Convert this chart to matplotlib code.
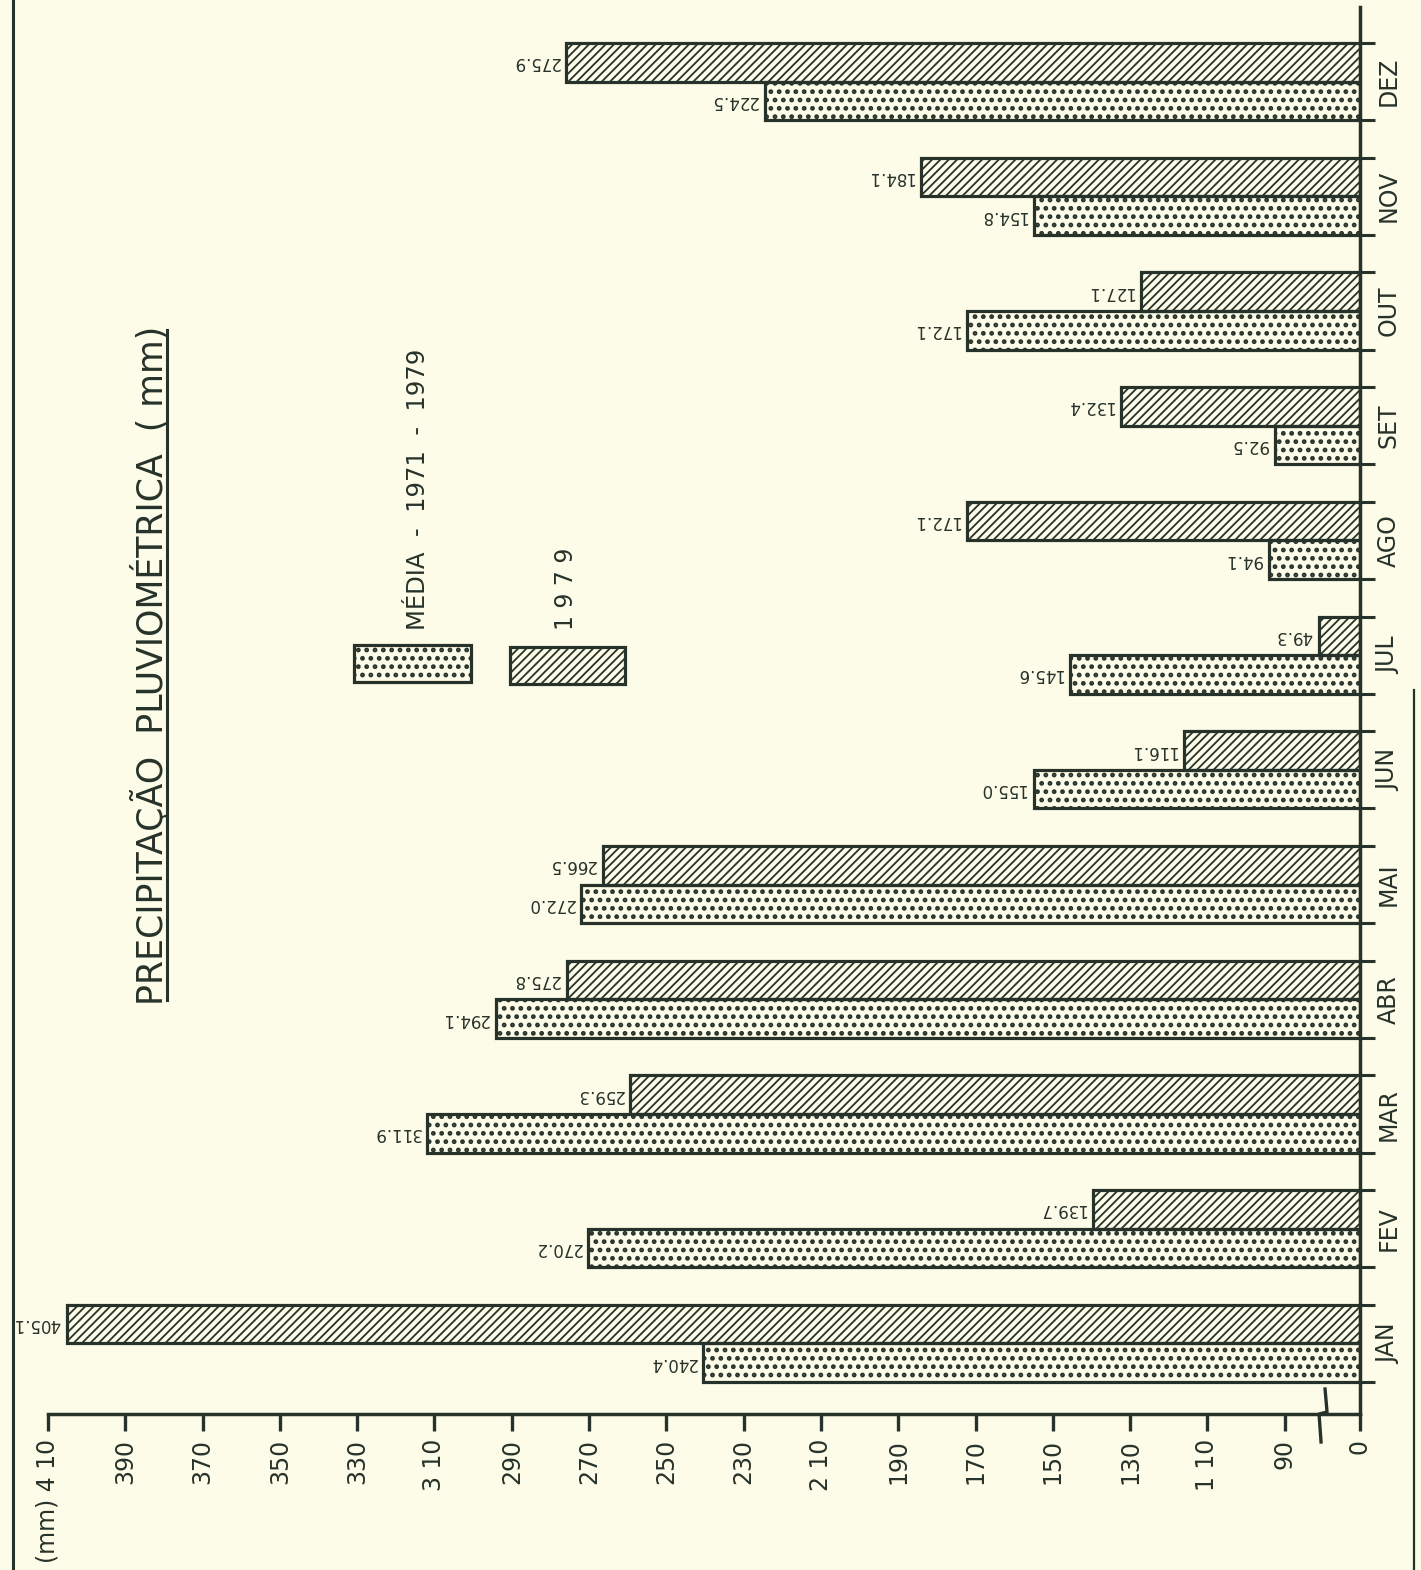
import numpy as np
import matplotlib
matplotlib.use("Agg")
import matplotlib.pyplot as plt
from matplotlib.patches import Rectangle
from matplotlib.lines import Line2D
from matplotlib import transforms

# ---------------- data ----------------
months = ["JAN", "FEV", "MAR", "ABR", "MAI", "JUN", "JUL", "AGO", "SET", "OUT", "NOV", "DEZ"]
media_1971_1979 = [240.4, 270.2, 311.9, 294.1, 272.0, 155.0, 145.6, 94.1, 92.5, 172.1, 154.8, 224.5]
ano_1979 = [405.1, 139.7, 259.3, 275.8, 266.5, 116.1, 49.3, 172.1, 132.4, 127.1, 184.1, 275.9]
tick_values = [0, 90, 110, 130, 150, 170, 190, 210, 230, 250, 270, 290, 310, 330, 350, 370, 390, 410]
tick_labels = ["0", "90", "1 10", "130", "150", "170", "190", "2 10", "230", "250", "270",
               "290", "3 10", "330", "350", "370", "390", "(mm) 4 10"]
title = "PRECIPITAÇÃO  PLUVIOMÉTRICA  ( mm)"
legend_labels = ["MÉDIA  -  1971  -  1979", "1 9 7 9"]

# ---------------- style ----------------
BG = "#FDFCE8"
INK = "#27322A"
plt.rcParams["font.family"] = ["DejaVu Sans"]
plt.rcParams["hatch.linewidth"] = 1.4
plt.rcParams["hatch.color"] = INK

W, H = 1421, 1570
fig = plt.figure(figsize=(W / 100, H / 100), dpi=100, facecolor=BG)

# axes placement in pixels
ax_left, ax_right, ax_top, ax_bottom = 48, 1360, 7, 1414
ax = fig.add_axes([ax_left / W, 1 - ax_bottom / H, (ax_right - ax_left) / W, (ax_bottom - ax_top) / H])
ax.set_facecolor("none")

# broken value axis: 0-90 compressed
BRK = 90.0
KU = 19.47  # scale units given to the 0..90 segment


def fwd(v):
    v = np.asarray(v, dtype=float)
    return np.where(v < BRK, v * KU / BRK, v - BRK + KU)


def inv(u):
    u = np.asarray(u, dtype=float)
    return np.where(u < KU, u * BRK / KU, u + BRK - KU)


ax.set_xscale("function", functions=(fwd, inv))

y = np.arange(len(months))
bh = 0.336
b1 = ax.barh(y - bh / 2, media_1971_1979, height=bh, facecolor="none", edgecolor=INK,
             linewidth=2.3, hatch="..")
b2 = ax.barh(y + bh / 2, ano_1979, height=bh, facecolor="none", edgecolor=INK,
             linewidth=2.3, hatch="////")
for r in b1:
    if hasattr(r, "set_hatch_linewidth"):
        r.set_hatch_linewidth(2.2)
for r in b2:
    if hasattr(r, "set_hatch_linewidth"):
        r.set_hatch_linewidth(1.3)

for bars, vals in ((b1, media_1971_1979), (b2, ano_1979)):
    for rect, v in zip(bars, vals):
        ax.annotate(f"{v:.1f}", xy=(v, rect.get_y() + rect.get_height() / 2),
                    xytext=(-5, 0), textcoords="offset points", rotation=180,
                    ha="right", va="center", fontsize=12, color=INK)

ax.set_xlim(410, 0)
ax.set_ylim(-0.615, 11.65)

# spines
for s in ("top", "left"):
    ax.spines[s].set_visible(False)
for s in ("bottom", "right"):
    ax.spines[s].set_color(INK)
    ax.spines[s].set_linewidth(2.5)

# value ticks
ax.set_xticks(tick_values)
ax.set_xticklabels(tick_labels, rotation=90, fontsize=17, color=INK)
ax.tick_params(axis="x", direction="out", length=12, width=2.4, color=INK, pad=6)
ax.xaxis.set_minor_locator(matplotlib.ticker.NullLocator())

# month axis on the right
ax.yaxis.tick_right()
edges = np.sort(np.concatenate([y - bh, y + bh]))
ax.set_yticks(edges)
ax.set_yticklabels([])
ax.tick_params(axis="y", which="major", direction="out", length=11, width=2.2, color=INK)
ax.set_yticks(y, minor=True)
ax.set_yticklabels(months, minor=True, rotation=90, fontsize=17, color=INK, va="center")
ax.tick_params(axis="y", which="minor", length=0, pad=12)

# axis break symbol
trb = transforms.blended_transform_factory(ax.transData, ax.transAxes)
xb = 43.0
pts_px = [(1, 25), (3, 2), (-5, 0), (-3, -28)]
base = trb.transform((xb, 0.0))
line_x = np.array([base[0] + p[0] for p in pts_px])
line_y = np.array([base[1] + p[1] for p in pts_px])
fig.add_artist(Line2D(line_x / W, line_y / H, transform=fig.transFigure,
                      color=INK, linewidth=2.4))

# title with underline
fig.text(150 / W, 1 - 665 / H, title, rotation=90, ha="center", va="center",
         fontsize=25, color=INK)
fig.add_artist(Line2D([167 / W, 167 / W], [1 - 1000 / H, 1 - 330 / H], transform=fig.transFigure,
                      color=INK, linewidth=2.2))

# legend (manual, rotated)
lg1 = Rectangle((354 / W, 1 - 682 / H), 117 / W, 37 / H, transform=fig.transFigure,
                facecolor="none", edgecolor=INK, linewidth=2.3, hatch="..")
lg2 = Rectangle((510 / W, 1 - 684 / H), 115 / W, 37 / H, transform=fig.transFigure,
                facecolor="none", edgecolor=INK, linewidth=2.3, hatch="////")
if hasattr(lg1, "set_hatch_linewidth"):
    lg1.set_hatch_linewidth(2.2)
    lg2.set_hatch_linewidth(1.3)
fig.add_artist(lg1)
fig.add_artist(lg2)
fig.text(418 / W, 1 - 630 / H, legend_labels[0], rotation=90, ha="center", va="bottom",
         fontsize=17.5, color=INK)
fig.text(566 / W, 1 - 630 / H, legend_labels[1], rotation=90, ha="center", va="bottom",
         fontsize=17, color=INK)

# frame edges of the scanned sheet
fig.add_artist(Line2D([13 / W, 13 / W], [0, 1], transform=fig.transFigure, color=INK, linewidth=2.2))
fig.add_artist(Line2D([1414 / W, 1414 / W], [0, 1 - 690 / H], transform=fig.transFigure,
                      color=INK, linewidth=1.6))

fig.savefig("out.png", dpi=100, facecolor=BG)
